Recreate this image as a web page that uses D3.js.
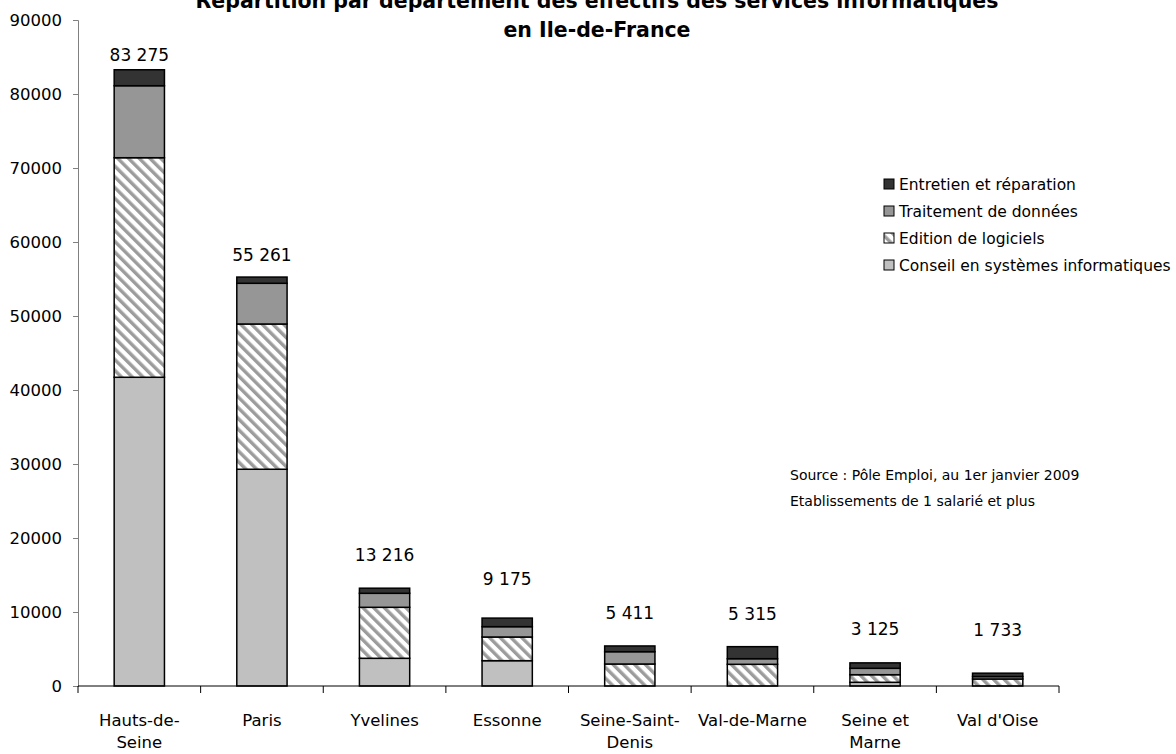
<!DOCTYPE html>
<html>
<head>
<meta charset="utf-8">
<script src="https://cdn.jsdelivr.net/npm/d3@7"></script>
<style>
  body { margin: 0; background: #fff; }
  svg { display: block; font-family: "DejaVu Sans", sans-serif; }
</style>
</head>
<body>
<div id="chart"></div>
<script>
// departments, in chart order
const departements = ["Hauts-de-Seine", "Paris", "Yvelines", "Essonne", "Seine-Saint-Denis", "Val-de-Marne", "Seine et Marne", "Val d'Oise"];
const tickLabels = [["Hauts-de-", "Seine"], ["Paris"], ["Yvelines"], ["Essonne"], ["Seine-Saint-", "Denis"], ["Val-de-Marne"], ["Seine et", "Marne"], ["Val d'Oise"]];

// effectifs par activite
const conseil    = [41720, 29290, 3743, 3423, 0,    0,    500,  0];
const edition    = [29670, 19630, 6892, 3199, 2973, 2932, 1027, 946];
const traitement = [9730,  5500,  1892, 1396, 1662, 757,  865,  330];
const entretien  = [2155,  841,   689,  1157, 776,  1626, 733,  457];

// level (in effectifs) at which each total was written
const labelLevels = [85300, 58200, 17700, 14500, 9900, 9750, 7700, 7550];

const seriesNames = ["Conseil en systèmes informatiques", "Edition de logiciels", "Traitement de données", "Entretien et réparation"];
const yTicks = [0, 10000, 20000, 30000, 40000, 50000, 60000, 70000, 80000, 90000];

const titleLines = ["Répartition par département des effectifs des services informatiques", "en Ile-de-France"];
const sourceLines = ["Source : Pôle Emploi, au 1er janvier 2009", "Etablissements de 1 salarié et plus"];

const width = 1176, height = 754;
const margin = {top: 20, right: 117, bottom: 68, left: 78};

const svg = d3.select("#chart").append("svg")
    .attr("width", width)
    .attr("height", height);

// hatch for "Edition de logiciels"
const defs = svg.append("defs");
const hatch = defs.append("pattern")
    .attr("id", "hatch")
    .attr("patternUnits", "userSpaceOnUse")
    .attr("width", 7.6)
    .attr("height", 7.6)
    .attr("patternTransform", "rotate(-45)");
hatch.append("rect").attr("width", 7.6).attr("height", 7.6).attr("fill", "#fff");
hatch.append("rect").attr("x", 0).attr("width", 3.4).attr("height", 7.6).attr("fill", "#9c9c9c");

const fills = {
  "Conseil en systèmes informatiques": "#c0c0c0",
  "Edition de logiciels": "url(#hatch)",
  "Traitement de données": "#969696",
  "Entretien et réparation": "#333333"
};

const rows = departements.map((d, i) => ({
  dep: d,
  "Conseil en systèmes informatiques": conseil[i],
  "Edition de logiciels": edition[i],
  "Traitement de données": traitement[i],
  "Entretien et réparation": entretien[i]
}));

const x = d3.scaleBand()
    .domain(departements)
    .range([margin.left, width - margin.right])
    .padding(0);

const y = d3.scaleLinear()
    .domain([0, 90000])
    .range([height - margin.bottom, margin.top]);

const barW = x.bandwidth() * 0.41;

// title (the top line is clipped by the edge, as in the original)
svg.append("g").selectAll("text")
    .data(titleLines)
    .join("text")
    .attr("x", 597)
    .attr("y", (d, i) => 8 + i * 29)
    .attr("text-anchor", "middle")
    .attr("font-size", 20.5)
    .attr("font-weight", "bold")
    .attr("fill", "#000")
    .text(d => d);

// y axis
const yAxis = svg.append("g")
    .attr("transform", `translate(${margin.left},0)`)
    .call(d3.axisLeft(y).tickValues(yTicks).tickFormat(d3.format("d")).tickSize(5).tickPadding(11));
yAxis.select(".domain").attr("stroke", "#808080");
yAxis.selectAll(".tick line").attr("stroke", "#808080");
yAxis.selectAll(".tick text")
    .attr("font-size", 16.5)
    .attr("font-family", "DejaVu Sans, sans-serif")
    .attr("fill", "#000");

// stacked bars
const stacked = d3.stack().keys(seriesNames)(rows);

const layers = svg.append("g").selectAll("g")
    .data(stacked)
    .join("g")
    .attr("fill", d => fills[d.key]);

layers.selectAll("rect")
    .data(d => d.filter(s => s[1] - s[0] > 0))
    .join("rect")
    .attr("x", d => x(d.data.dep) + (x.bandwidth() - barW) / 2)
    .attr("y", d => y(d[1]))
    .attr("width", barW)
    .attr("height", d => y(d[0]) - y(d[1]))
    .attr("stroke", "#000")
    .attr("stroke-width", 1.5);

// x axis
const xAxisY = y(0);
svg.append("line")
    .attr("x1", margin.left).attr("x2", width - margin.right)
    .attr("y1", xAxisY).attr("y2", xAxisY)
    .attr("stroke", "#000");
const bounds = departements.map(d => x(d)).concat([x(departements[departements.length - 1]) + x.bandwidth()]);
svg.append("g").selectAll("line")
    .data(bounds)
    .join("line")
    .attr("x1", d => d).attr("x2", d => d)
    .attr("y1", xAxisY).attr("y2", xAxisY + 7)
    .attr("stroke", "#000");

const catText = svg.append("g").selectAll("text")
    .data(departements)
    .join("text")
    .attr("x", d => x(d) + x.bandwidth() / 2)
    .attr("y", xAxisY + 40)
    .attr("text-anchor", "middle")
    .attr("font-size", 16.5)
    .attr("fill", "#000");
catText.selectAll("tspan")
    .data((d, i) => tickLabels[i])
    .join("tspan")
    .attr("x", function() { return d3.select(this.parentNode).attr("x"); })
    .attr("dy", (d, i) => i === 0 ? 0 : 22)
    .text(d => d);

// totals
const fr = d3.formatLocale({decimal: ",", thousands: " ", grouping: [3], currency: ["", " €"]});
const fmt = fr.format(",d");
svg.append("g").selectAll("text")
    .data(rows)
    .join("text")
    .attr("x", d => x(d.dep) + x.bandwidth() / 2)
    .attr("y", (d, i) => y(labelLevels[i]) + 6)
    .attr("text-anchor", "middle")
    .attr("font-size", 17)
    .attr("fill", "#000")
    .text(d => fmt(d3.sum(seriesNames, k => d[k])));

// legend
const legend = svg.append("g")
    .attr("transform", "translate(884,184)");
const legItems = legend.selectAll("g")
    .data(seriesNames.slice().reverse())
    .join("g")
    .attr("transform", (d, i) => `translate(0,${i * 27})`);
legItems.append("rect")
    .attr("x", 0).attr("y", -5)
    .attr("width", 10).attr("height", 10)
    .attr("fill", d => fills[d])
    .attr("stroke", "#000")
    .attr("stroke-width", 1);
legItems.append("text")
    .attr("x", 15)
    .attr("y", 5.5)
    .attr("font-size", 15.5)
    .attr("fill", "#000")
    .text(d => d);

// source note
svg.append("g").selectAll("text")
    .data(sourceLines)
    .join("text")
    .attr("x", 790)
    .attr("y", (d, i) => 480 + i * 26)
    .attr("font-size", 14)
    .attr("fill", "#000")
    .text(d => d);
</script>
</body>
</html>
